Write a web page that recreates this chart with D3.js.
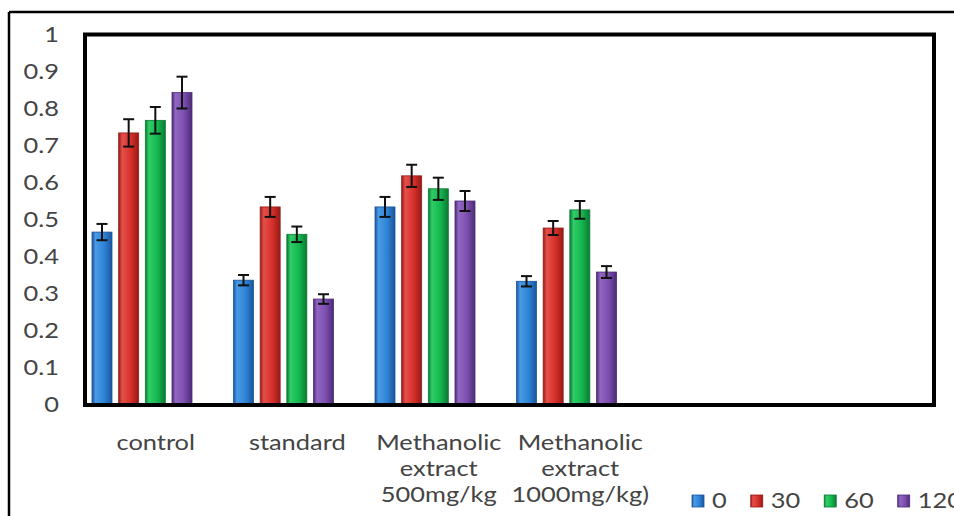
<!DOCTYPE html>
<html><head><meta charset="utf-8">
<script src="https://cdn.jsdelivr.net/npm/d3@7"></script>
<style>
html,body{margin:0;padding:0;background:#fff;}
svg{display:block;}
text{font-family:Lato,"Open Sans",sans-serif;fill:#444444;}
</style></head>
<body>
<svg id="chart" width="954" height="516"></svg>
<script>
// ---- data ----
const categories = ["control","standard","Methanolic extract 500mg/kg","Methanolic extract 1000mg/kg)","",""];
const categoryLines = [["control"],["standard"],["Methanolic","extract","500mg/kg"],["Methanolic","extract","1000mg/kg)"],[],[]];
const seriesNames = ["0","30","60","120"];
const values0   = [0.466, 0.336, 0.534, 0.333];
const values30  = [0.734, 0.534, 0.618, 0.477];
const values60  = [0.768, 0.460, 0.583, 0.526];
const values120 = [0.843, 0.285, 0.550, 0.358];
const errors0   = [0.022, 0.014, 0.027, 0.014];
const errors30  = [0.037, 0.027, 0.030, 0.019];
const errors60  = [0.036, 0.021, 0.030, 0.024];
const errors120 = [0.043, 0.013, 0.027, 0.016];
const yTicks = [0,0.1,0.2,0.3,0.4,0.5,0.6,0.7,0.8,0.9,1];
const yTickLabels = ["0","0.1","0.2","0.3","0.4","0.5","0.6","0.7","0.8","0.9","1"];

const seriesValues = [values0, values30, values60, values120];
const seriesErrors = [errors0, errors30, errors60, errors120];
const colors = [
  {base:"#2e84d6", light:"#4a9be6", dark:"#1b559e"},
  {base:"#d8302a", light:"#e4504a", dark:"#961a17"},
  {base:"#14b84f", light:"#30cc68", dark:"#0b7a33"},
  {base:"#7d4faf", light:"#9167c2", dark:"#4c2b78"}
];

// ---- layout ----
const svg = d3.select("#chart");
const plot = {left:85, right:934, top:34.5, bottom:404.5};
const textScale = 1.24;
const fontSize = "20.5px";

const x = d3.scaleBand().domain(categories.map((c,i)=>i)).range([plot.left, plot.right]).padding(0);
const xs = d3.scaleBand().domain(seriesNames).range([7, 107]).paddingInner(0.25).paddingOuter(0);
const y = d3.scaleLinear().domain([0,1]).range([plot.bottom, plot.top]);

// gradients
const defs = svg.append("defs");
colors.forEach((c,i)=>{
  const g = defs.append("linearGradient").attr("id","g"+i).attr("x1","0").attr("x2","1").attr("y1","0").attr("y2","0");
  g.append("stop").attr("offset","0%").attr("stop-color",c.dark);
  g.append("stop").attr("offset","18%").attr("stop-color",c.light);
  g.append("stop").attr("offset","60%").attr("stop-color",c.base);
  g.append("stop").attr("offset","100%").attr("stop-color",c.dark);
});

// outer frame
svg.append("line").attr("x1",9).attr("x2",954).attr("y1",12).attr("y2",12).attr("stroke","#000").attr("stroke-width",2.5);
svg.append("line").attr("x1",9).attr("x2",9).attr("y1",12).attr("y2",516).attr("stroke","#000").attr("stroke-width",2.5);

// y tick labels
const yAxis = svg.append("g");
yTicks.forEach((t,i)=>{
  yAxis.append("text")
    .attr("transform",`translate(59,${y(t)}) scale(${textScale},1)`)
    .attr("text-anchor","end").attr("dy","0.36em")
    .style("font-size",fontSize).text(yTickLabels[i]);
});

// bars
const barsG = svg.append("g");
categories.forEach((c,ci)=>{
  seriesNames.forEach((s,si)=>{
    const v = seriesValues[si][ci];
    if (v === undefined) return;
    const e = seriesErrors[si][ci];
    const bx = x(ci) + xs(s);
    const bw = xs.bandwidth();
    barsG.append("rect")
      .attr("x",bx).attr("y",y(v)).attr("width",bw).attr("height",y(0)-y(v))
      .attr("fill",`url(#g${si})`).attr("stroke",colors[si].dark).attr("stroke-width",0.8);
    const cx = bx + bw/2;
    const eg = barsG.append("g").attr("stroke","#111").attr("stroke-width",2);
    eg.append("line").attr("x1",cx).attr("x2",cx).attr("y1",y(v+e)).attr("y2",y(v-e));
    eg.append("line").attr("x1",cx-5.5).attr("x2",cx+5.5).attr("y1",y(v+e)).attr("y2",y(v+e));
    eg.append("line").attr("x1",cx-5.5).attr("x2",cx+5.5).attr("y1",y(v-e)).attr("y2",y(v-e));
  });
});

// plot border
svg.append("rect").attr("x",plot.left).attr("y",plot.top).attr("width",plot.right-plot.left).attr("height",plot.bottom-plot.top+0.5)
  .attr("fill","none").attr("stroke","#000").attr("stroke-width",4);

// category labels
const xAxis = svg.append("g");
categoryLines.forEach((lines,ci)=>{
  const cx = x(ci) + x.bandwidth()/2;
  lines.forEach((ln,li)=>{
    xAxis.append("text")
      .attr("transform",`translate(${cx},${450 + li*26}) scale(${textScale},1)`)
      .attr("text-anchor","middle").style("font-size",fontSize).text(ln);
  });
});

// legend
const legend = svg.append("g");
let lx = 692;
seriesNames.forEach((s,si)=>{
  legend.append("rect").attr("x",lx).attr("y",495).attr("width",12).attr("height",12)
    .attr("fill",`url(#g${si})`).attr("stroke",colors[si].dark).attr("stroke-width",0.8);
  const t = legend.append("text")
    .attr("transform",`translate(${lx+20},508) scale(${textScale},1)`)
    .style("font-size",fontSize).text(s);
  const w = t.node().getComputedTextLength()*textScale;
  lx = lx + 20 + w + 24;
});
</script>
</body></html>
